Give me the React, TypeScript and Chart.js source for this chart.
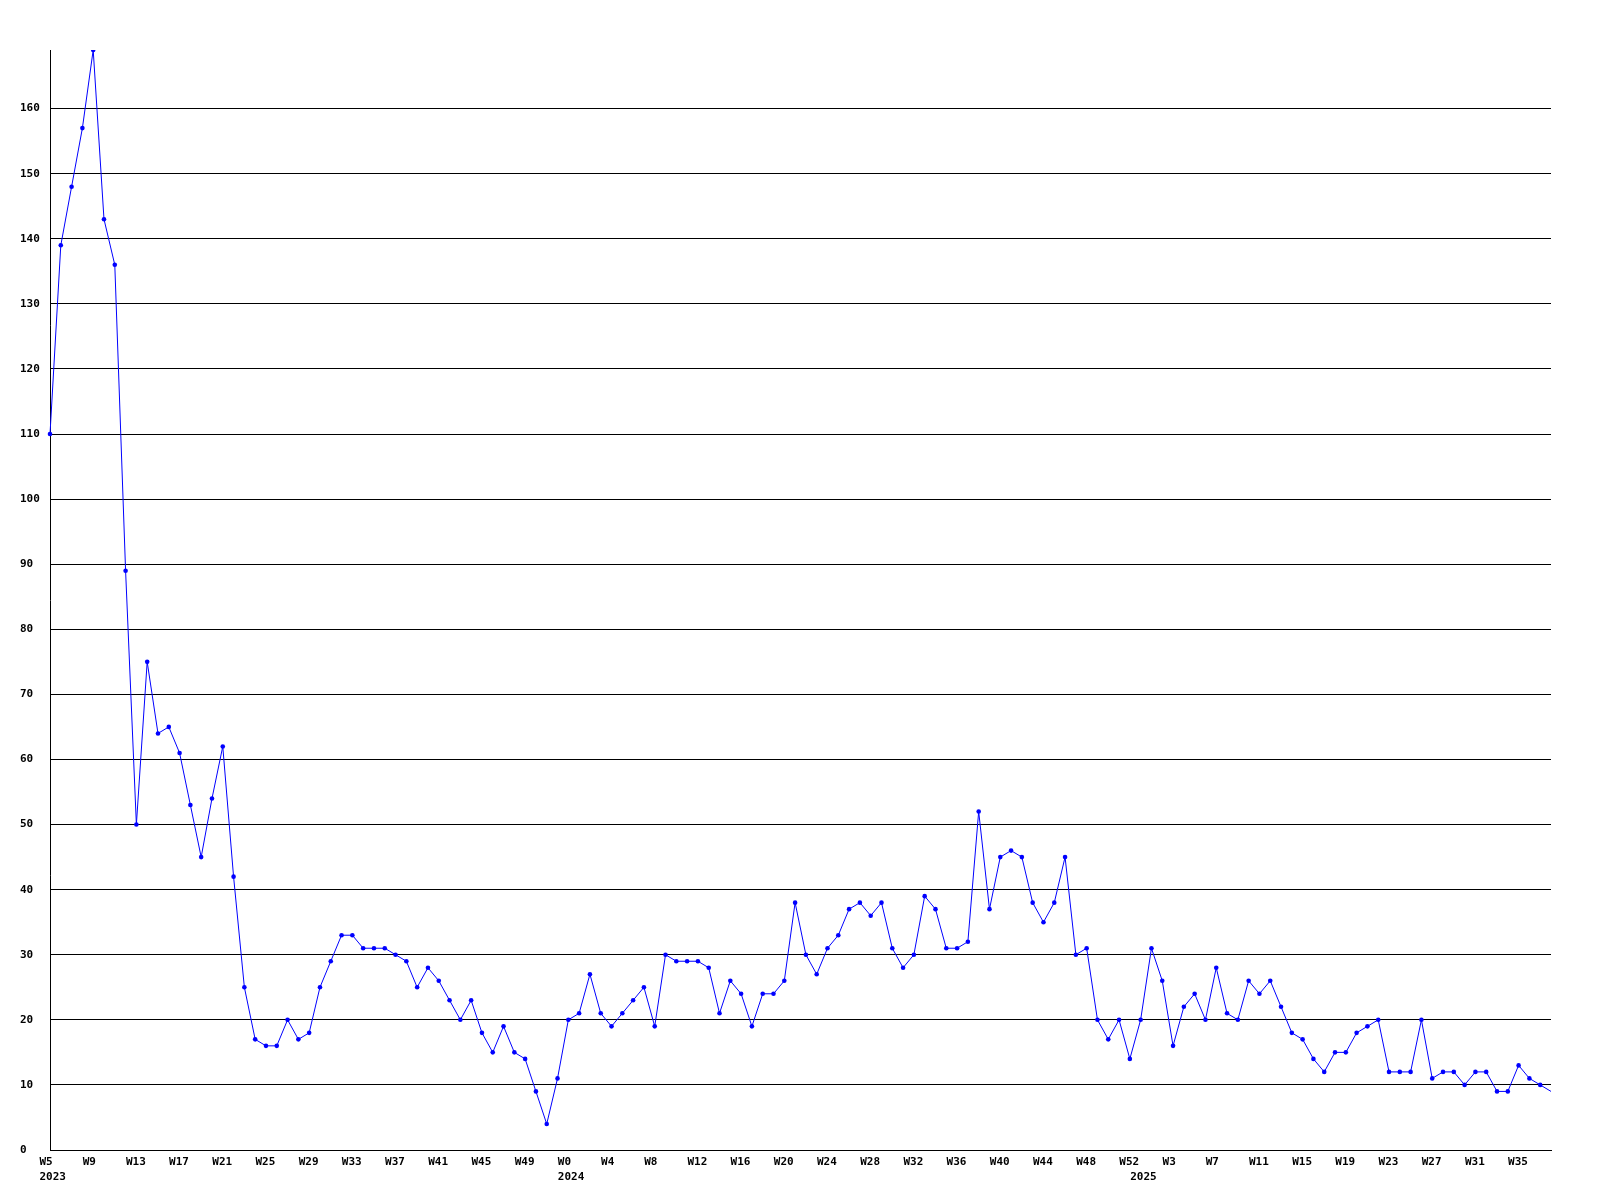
import React, { useEffect, useRef } from "react";
import { Chart, registerables } from "chart.js";

Chart.register(...registerables);

// Week categories (one point per week)
const weeks2023 = [
  "W5", "W6", "W7", "W8", "W9", "W10", "W11", "W12", "W13", "W14", "W15", "W16",
  "W17", "W18", "W19", "W20", "W21", "W22", "W23", "W24", "W25", "W26", "W27", "W28",
  "W29", "W30", "W31", "W32", "W33", "W34", "W35", "W36", "W37", "W38", "W39", "W40",
  "W41", "W42", "W43", "W44", "W45", "W46", "W47", "W48", "W49", "W50", "W51", "W52",
];
const weeks2024 = [
  "W0", "W1", "W2", "W3", "W4", "W5", "W6", "W7", "W8", "W9", "W10", "W11", "W12",
  "W13", "W14", "W15", "W16", "W17", "W18", "W19", "W20", "W21", "W22", "W23", "W24",
  "W25", "W26", "W27", "W28", "W29", "W30", "W31", "W32", "W33", "W34", "W35", "W36",
  "W37", "W38", "W39", "W40", "W41", "W42", "W43", "W44", "W45", "W46", "W47", "W48",
  "W49", "W50", "W51", "W52",
];
const weeks2025 = [
  "W0", "W1", "W2", "W3", "W4", "W5", "W6", "W7", "W8", "W9", "W10", "W11", "W12",
  "W13", "W14", "W15", "W16", "W17", "W18", "W19", "W20", "W21", "W22", "W23", "W24",
  "W25", "W26", "W27", "W28", "W29", "W30", "W31", "W32", "W33", "W34", "W35", "W36",
  "W37", "W38",
];
const years = ["2023", "2024", "2025"];

// Series values
const values2023 = [
  110, 139, 148, 157, 169, 143, 136, 89, 50, 75, 64, 65, 61, 53, 45, 54, 62, 42, 25, 17,
  16, 16, 20, 17, 18, 25, 29, 33, 33, 31, 31, 31, 30, 29, 25, 28, 26, 23, 20, 23,
  18, 15, 19, 15, 14, 9, 4, 11,
];
const values2024 = [
  20, 21, 27, 21, 19, 21, 23, 25, 19, 30, 29, 29, 29, 28, 21, 26, 24, 19, 24, 24,
  26, 38, 30, 27, 31, 33, 37, 38, 36, 38, 31, 28, 30, 39, 37, 31, 31, 32, 52, 37,
  45, 46, 45, 38, 35, 38, 45, 30, 31, 20, 17, 20, 14,
];
const values2025 = [
  20, 31, 26, 16, 22, 24, 20, 28, 21, 20, 26, 24, 26, 22, 18, 17, 14, 12, 15, 15,
  18, 19, 20, 12, 12, 12, 20, 11, 12, 12, 10, 12, 12, 9, 9, 13, 11, 10, 9,
];

const Y_MAX = 169;
const Y_STEP = 10;
const LABEL_EVERY = 4;

export default function App() {
  const canvasRef = useRef<HTMLCanvasElement | null>(null);

  useEffect(() => {
    document.body.style.margin = "0";
    const canvas = canvasRef.current;
    if (!canvas) return;

    const categories = [...weeks2023, ...weeks2024, ...weeks2025];
    const data = [...values2023, ...values2024, ...values2025];
    const lastIndex = data.length - 1;
    const yearStart: Record<number, string> = {
      0: years[0],
      [weeks2023.length]: years[1],
      [weeks2023.length + weeks2024.length]: years[2],
    };

    const font = { family: "'DejaVu Sans Mono', monospace", size: 11, weight: "bold" as const, lineHeight: "15px" };

    const chart = new Chart(canvas, {
      type: "line",
      data: {
        labels: categories,
        datasets: [
          {
            data,
            borderColor: "rgb(0,0,255)",
            backgroundColor: "rgb(0,0,255)",
            borderWidth: 1,
            pointRadius: (ctx: any) => (ctx.dataIndex === lastIndex ? 0 : 2.3),
            pointBorderWidth: 0,
            pointStyle: "circle",
            tension: 0,
            fill: false,
          },
        ],
      },
      options: {
        responsive: false,
        animation: false,
        devicePixelRatio: 1,
        layout: { padding: { left: 20, top: 50, right: 49, bottom: 0 } },
        plugins: { legend: { display: false }, tooltip: { enabled: false }, title: { display: false } },
        scales: {
          x: {
            type: "category",
            offset: false,
            grid: { display: false, drawTicks: false },
            border: { display: true, color: "#000", width: 1 },
            ticks: {
              autoSkip: false,
              maxRotation: 0,
              minRotation: 0,
              align: "start",
              labelOffset: -10.5,
              padding: 5,
              color: "#000",
              font,
              callback: (_v: any, index: number) => {
                const wk = index % LABEL_EVERY === 0 ? categories[index] : "";
                const yr = yearStart[index];
                if (yr) return [wk, yr];
                return wk;
              },
            },
            afterFit: (scale: any) => {
              scale.height = 50;
            },
          },
          y: {
            type: "linear",
            min: 0,
            max: Y_MAX,
            grid: { display: true, color: "#000", lineWidth: 1, drawTicks: false },
            border: { display: true, color: "#000", width: 1 },
            ticks: {
              stepSize: Y_STEP,
              includeBounds: false,
              crossAlign: "far",
              padding: 0,
              color: "#000",
              font,
            },
            afterFit: (scale: any) => {
              scale.width = 30;
            },
          },
        },
      },
    });

    return () => {
      chart.destroy();
    };
  }, []);

  return <canvas ref={canvasRef} width={1600} height={1200} style={{ display: "block" }} />;
}
